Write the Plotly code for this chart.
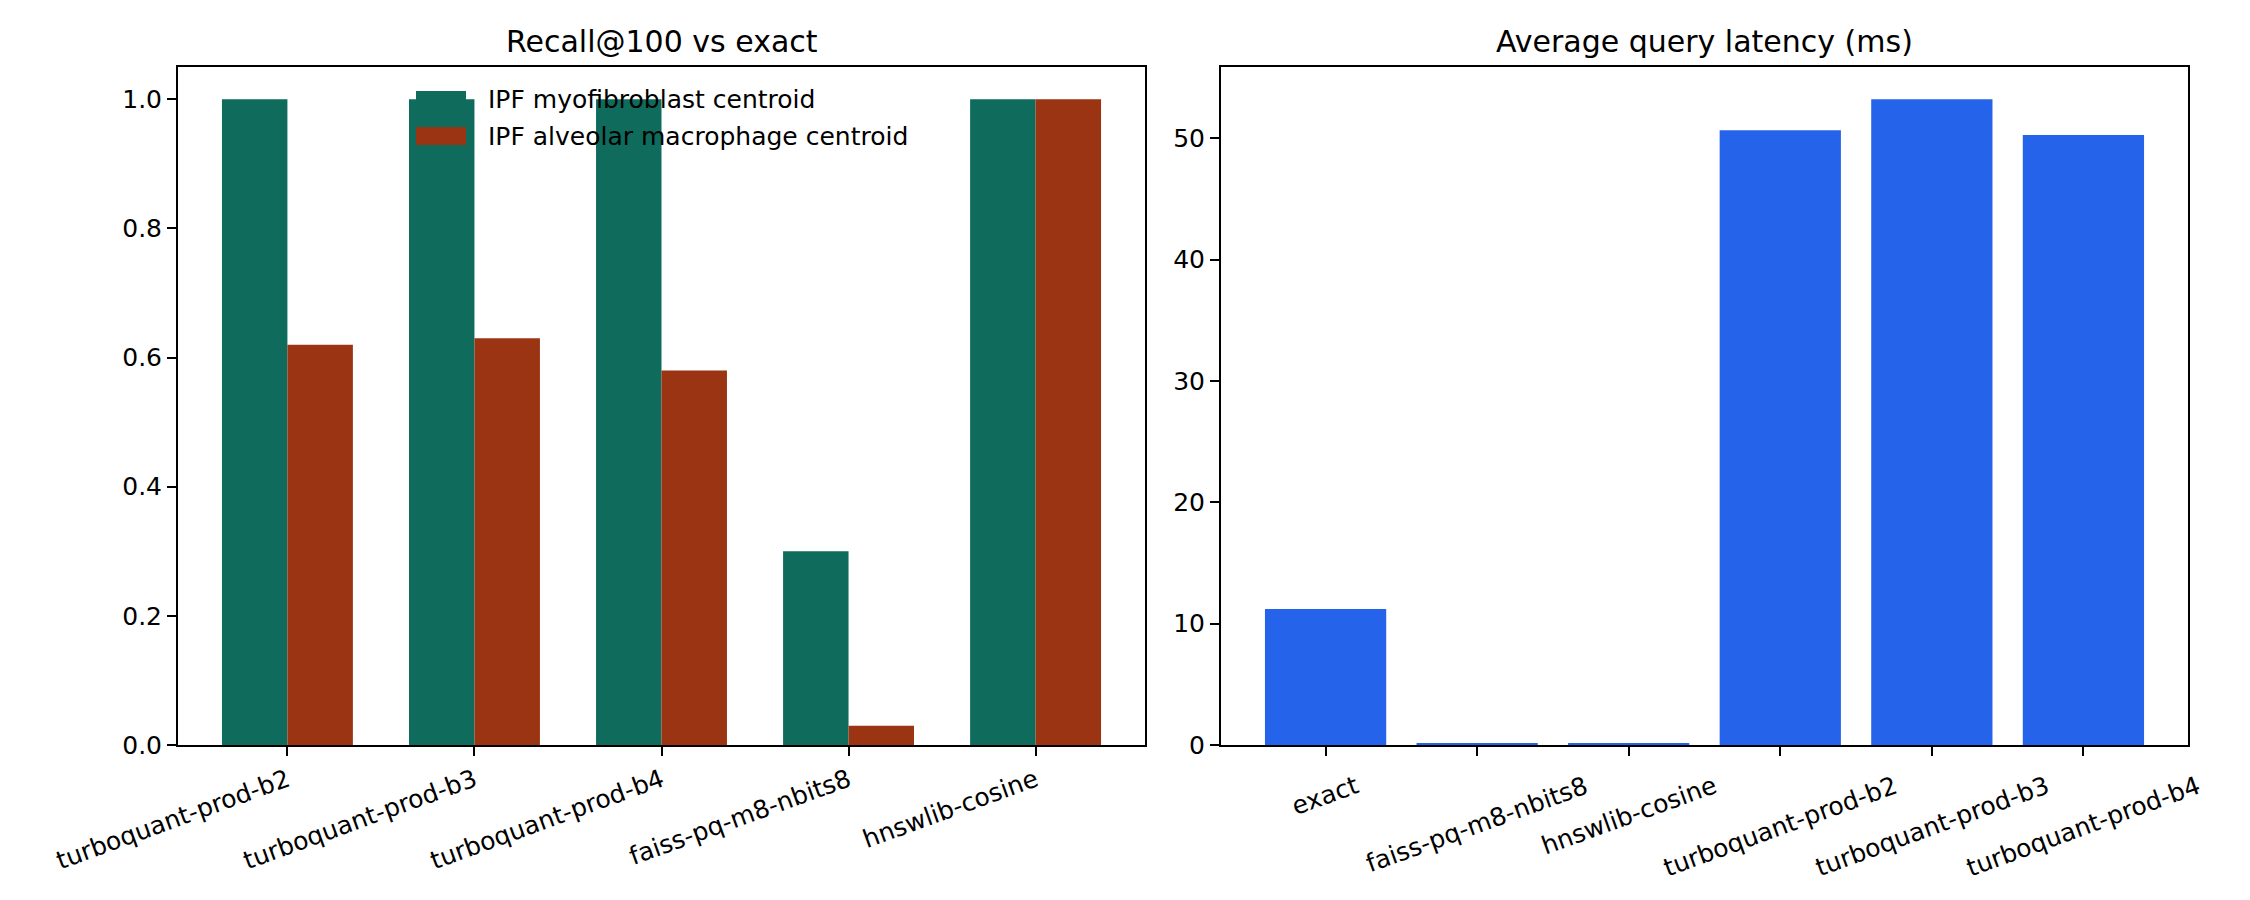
import plotly.graph_objects as go

# recall panel
recall_methods = ["turboquant-prod-b2", "turboquant-prod-b3", "turboquant-prod-b4",
                  "faiss-pq-m8-nbits8", "hnswlib-cosine"]
recall_myofibroblast = [1.0, 1.0, 1.0, 0.30, 1.0]
recall_macrophage = [0.62, 0.63, 0.58, 0.03, 1.0]
recall_ticks = [0.0, 0.2, 0.4, 0.6, 0.8, 1.0]
series_names = ["IPF myofibroblast centroid", "IPF alveolar macrophage centroid"]

# latency panel
latency_methods = ["exact", "faiss-pq-m8-nbits8", "hnswlib-cosine",
                   "turboquant-prod-b2", "turboquant-prod-b3", "turboquant-prod-b4"]
latency_ms = [11.2, 0.12, 0.12, 50.65, 53.2, 50.25]
latency_ticks = [0, 10, 20, 30, 40, 50]

TEAL = "#0f6b5c"
RUST = "#9a3412"
BLUE = "#2563eb"
FONT = "DejaVu Sans"
TICK_SIZE = 25
PAGE_OFF = 8  # body margin of the html page
W, H = 2250 - 2 * PAGE_OFF, 900 - 2 * PAGE_OFF


# helpers: page pixel -> paper fraction
def px_x(p):
    return (p - PAGE_OFF) / W


def px_y(p):
    return 1 - (p - PAGE_OFF) / H


fig = go.Figure()
fig.add_trace(go.Bar(x=recall_methods, y=recall_myofibroblast, name=series_names[0],
                     marker=dict(color=TEAL, line=dict(width=0)), xaxis="x", yaxis="y"))
fig.add_trace(go.Bar(x=recall_methods, y=recall_macrophage, name=series_names[1],
                     marker=dict(color=RUST, line=dict(width=0)), xaxis="x", yaxis="y"))
fig.add_trace(go.Bar(x=latency_methods, y=latency_ms, width=0.8,
                     marker=dict(color=BLUE, line=dict(width=0)), xaxis="x2", yaxis="y2"))

axis_common = dict(showline=True, linecolor="black", linewidth=2, mirror=True,
                   ticks="outside", ticklen=9, tickwidth=1.6, tickcolor="black",
                   showgrid=False, zeroline=False, automargin=False,
                   tickfont=dict(family=FONT, size=TICK_SIZE, color="black"))
ydom = [px_y(745), px_y(67)]

# legend drawn matplotlib-style: wide patches + labels
legend_shapes = []
notes = []
for row, (name, col) in enumerate(zip(series_names, [TEAL, RUST])):
    yc = 100 + 36 * row
    legend_shapes.append(dict(type="rect", xref="paper", yref="paper",
                              x0=px_x(416), x1=px_x(466), y0=px_y(yc + 9), y1=px_y(yc - 9),
                              fillcolor=col, line=dict(width=0), layer="above"))
    notes.append(dict(text=name, x=px_x(486), y=px_y(yc), xref="paper", yref="paper",
                      showarrow=False, xanchor="left", yanchor="middle",
                      font=dict(family=FONT, size=TICK_SIZE, color="black")))

# right panel tick labels are centred on their ticks (rotated)
for m in latency_methods:
    notes.append(dict(text=m, x=m, xref="x2", y=px_y(768), yref="paper",
                      showarrow=False, xanchor="center", yanchor="top", textangle=-20,
                      font=dict(family=FONT, size=TICK_SIZE, color="black")))

for title, x0, x1 in [("Recall@100 vs exact", 178, 1145),
                      ("Average query latency (ms)", 1221, 2188)]:
    notes.append(dict(text=title, x=(px_x(x0) + px_x(x1)) / 2, y=px_y(42),
                      xref="paper", yref="paper", showarrow=False,
                      xanchor="center", yanchor="middle",
                      font=dict(family=FONT, size=30, color="black")))

fig.update_layout(
    width=W, height=H,
    margin=dict(l=0, r=0, t=0, b=0),
    paper_bgcolor="white", plot_bgcolor="white",
    font=dict(family=FONT, color="black"),
    showlegend=False,
    barmode="group", bargap=0.3, bargroupgap=0,
    xaxis=dict(domain=[px_x(178), px_x(1145)], anchor="y", type="category",
               range=[-0.585, 4.585], tickangle=-20, **axis_common),
    yaxis=dict(domain=ydom, anchor="x", range=[0, 1.05], tickvals=recall_ticks,
               tickformat=".1f", **axis_common),
    xaxis2=dict(domain=[px_x(1221), px_x(2188)], anchor="y2", type="category",
                range=[-0.69, 5.69], showticklabels=False, **axis_common),
    yaxis2=dict(domain=ydom, anchor="x2", range=[0, 55.86], tickvals=latency_ticks,
                **axis_common),
    shapes=legend_shapes,
    annotations=notes,
)

fig.write_html("out.html")
